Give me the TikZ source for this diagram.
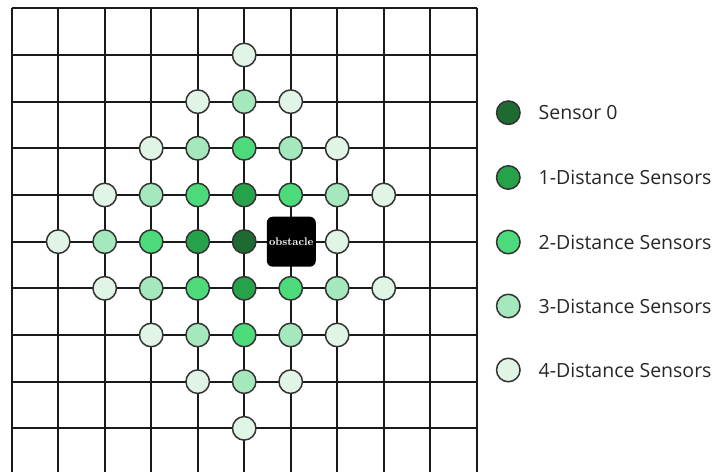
\documentclass[tikz,border=0pt]{standalone}
\usepackage{fontspec}
\setmainfont{Open Sans}
\newfontfamily\obsfont{Latin Modern Roman}
\definecolor{dzero}{HTML}{1E6B32}
\definecolor{done}{HTML}{25A24A}
\definecolor{dtwo}{HTML}{4CDA7A}
\definecolor{dthree}{HTML}{A6E8BD}
\definecolor{dfour}{HTML}{E0F5E6}
\definecolor{gridc}{HTML}{1A1A1A}
\definecolor{rimc}{HTML}{333333}
\tikzset{
  sensor/.style={circle, draw=rimc, line width=1.5pt, minimum size=23.5pt, inner sep=0pt},
  s0/.style={sensor, fill=dzero},
  s1/.style={sensor, fill=done},
  s2/.style={sensor, fill=dtwo},
  s3/.style={sensor, fill=dthree},
  s4/.style={sensor, fill=dfour},
  obstaclebox/.style={rectangle, rounded corners=6pt, fill=black, minimum width=49pt, minimum height=50pt, inner sep=0pt, text=white, font=\obsfont\bfseries\fontsize{11}{12}\selectfont},
  legtext/.style={anchor=west, inner sep=0pt, font=\fontsize{19.5}{22}\selectfont, text=black!85},
  gridline/.style={draw=gridc, line width=1.8pt}
}
\begin{document}
\begin{tikzpicture}[x=1pt,y=-1pt]
\useasboundingbox (0,0) rectangle (718,472);
% grid
\foreach \i in {0,...,10} {
  \draw[gridline] ({11.7+46.5*\i},8.3) -- ({11.7+46.5*\i},472);
}
\foreach \j in {0,...,9} {
  \draw[gridline] (11.7,{8.3+46.67*\j}) -- (476.7,{8.3+46.67*\j});
}
% sensors: column c, row r -> (11.7+46.5c, 8.3+46.67r)
\foreach \c/\r/\s/\n in {
  5/5/s0/a, 4/5/s1/b, 5/4/s1/c, 5/6/s1/d,
  3/5/s2/e, 4/4/s2/f, 6/4/s2/g, 4/6/s2/h, 6/6/s2/i, 5/3/s2/j, 5/7/s2/k,
  2/5/s3/l, 3/4/s3/m, 7/4/s3/n, 3/6/s3/o, 7/6/s3/p, 4/3/s3/q, 6/3/s3/r, 4/7/s3/s, 6/7/s3/t, 5/2/s3/u, 5/8/s3/v,
  1/5/s4/w, 7/5/s4/x, 2/4/s4/y, 8/4/s4/z, 2/6/s4/aa, 8/6/s4/ab, 3/3/s4/ac, 7/3/s4/ad, 3/7/s4/ae, 7/7/s4/af,
  4/2/s4/ag, 6/2/s4/ah, 4/8/s4/ai, 6/8/s4/aj, 5/1/s4/ak, 5/9/s4/al} {
  \node[\s] (sen\n) at ({11.7+46.5*\c},{8.3+46.67*\r}) {};
}
\node[obstaclebox] (obstacle) at (291.3,241.7) {obstacle};
% legend
\node[s0] (l0) at (508.3,112.7) {};
\node[s1] (l1) at (508.3,177.5) {};
\node[s2] (l2) at (508.3,242) {};
\node[s3] (l3) at (508.3,306) {};
\node[s4] (l4) at (508.3,370) {};
\node[legtext] (t0) at (538.5,112.7) {Sensor 0};
\node[legtext] (t1) at (538.5,177.5) {1-Distance Sensors};
\node[legtext] (t2) at (538.5,242) {2-Distance Sensors};
\node[legtext] (t3) at (538.5,306) {3-Distance Sensors};
\node[legtext] (t4) at (538.5,370) {4-Distance Sensors};
\end{tikzpicture}
\end{document}
